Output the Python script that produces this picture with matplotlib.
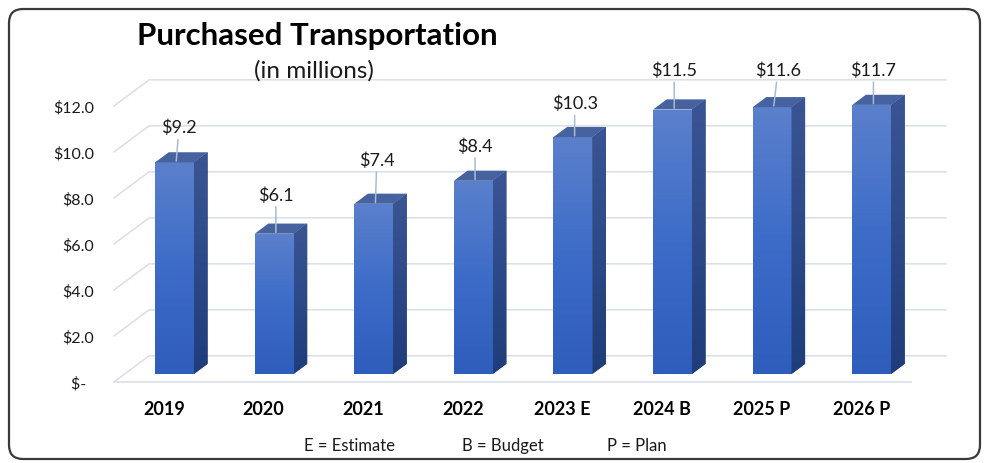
import numpy as np
import matplotlib
matplotlib.use("Agg")
import matplotlib.pyplot as plt
from matplotlib.patches import Polygon, FancyBboxPatch
from matplotlib.colors import LinearSegmentedColormap
from matplotlib.transforms import IdentityTransform

# ---------------- data ----------------
categories = ["2019", "2020", "2021", "2022", "2023 E", "2024 B", "2025 P", "2026 P"]
values = [9.2, 6.1, 7.4, 8.4, 10.3, 11.5, 11.6, 11.7]
value_labels = ["$9.2", "$6.1", "$7.4", "$8.4", "$10.3", "$11.5", "$11.6", "$11.7"]
y_ticks = [0, 2, 4, 6, 8, 10, 12]
y_tick_labels = ["$-  ", "$2.0", "$4.0", "$6.0", "$8.0", "$10.0", "$12.0"]
notes = ["E = Estimate", "B = Budget", "P = Plan"]
title = "Purchased Transportation"
subtitle = "(in millions)"

# ---------------- layout / style ----------------
label_offsets_pt = [24.5, 27.4, 31.0, 24.5, 23.8, 27.7, 26.0, 24.5]
label_dx_pt = [2, 0, 1, 0, 0, 0, 3, 0]
note_x_px = [349, 503, 637]

FRONT_TOP, FRONT_BOT = "#5B80CC", "#2E5DBC"
SIDE_TOP, SIDE_BOT = "#3B5594", "#1F3D7A"
TOP_COLOR = "#46629F"
GRID = "#DCE0E7"
LEADER = "#A9BBD1"
TXT = "#1A1A1A"

W_PX, H_PX = 985, 464
plt.rcParams['font.family'] = ['Lato', 'DejaVu Sans']

fig = plt.figure(figsize=(W_PX / 100, H_PX / 100), dpi=100)
fig.patch.set_facecolor("white")
ax = fig.add_axes([0.1266, 0.14224, 0.8089, 0.66918])
ax.set_facecolor("none")
for s in ax.spines.values():
    s.set_visible(False)

# pseudo-3D projection: depth z in [0, 1] from front edge to back wall
DX, DY = 0.3514, 1.1304
Z_FRONT, Z_BACK = 0.30, 0.69
BAR_W = 0.39


def proj(x, y, z):
    return x + (z - Z_FRONT) * DX, y + (z - Z_FRONT) * DY


n = len(categories)
xs = np.arange(n)
x_lo, x_hi = -0.5, n - 0.5

# back wall gridlines + left wall diagonals
for v in y_ticks:
    a = proj(x_lo, v, 0)
    b = proj(x_lo, v, 1)
    c = proj(x_hi, v, 1)
    ax.plot([a[0], b[0], c[0]], [a[1], b[1], c[1]], color=GRID, lw=1.2,
            zorder=1, clip_on=False, solid_joinstyle="miter")
# floor front edge
a = proj(x_lo, 0, 0)
b = proj(x_hi, 0, 0)
ax.plot([a[0], b[0]], [a[1], b[1]], color=GRID, lw=1.2, zorder=1, clip_on=False)

front_cmap = LinearSegmentedColormap.from_list("front", [FRONT_BOT, "#3C6CC8", FRONT_TOP])
side_cmap = LinearSegmentedColormap.from_list("side", [SIDE_BOT, SIDE_TOP])
grad = np.linspace(0, 1, 256).reshape(-1, 1)

bars = ax.bar(xs, values, width=BAR_W, color=FRONT_BOT, zorder=3, linewidth=0)
for rect in bars:
    x0 = rect.get_x()
    x1 = x0 + rect.get_width()
    h = rect.get_height()
    # front gradient
    im = ax.imshow(grad, extent=(x0, x1, 0, h), origin="lower", aspect="auto",
                   cmap=front_cmap, zorder=3.1, interpolation="bilinear")
    im.set_clip_path(rect)
    # side face
    side_pts = [proj(x1, 0, Z_FRONT), proj(x1, h, Z_FRONT),
                proj(x1, h, Z_BACK), proj(x1, 0, Z_BACK)]
    side = Polygon(side_pts, closed=True, facecolor=SIDE_BOT, edgecolor="none", zorder=3)
    ax.add_patch(side)
    sx = [p[0] for p in side_pts]
    sy = [p[1] for p in side_pts]
    im2 = ax.imshow(grad, extent=(min(sx), max(sx), min(sy), max(sy)), origin="lower",
                    aspect="auto", cmap=side_cmap, zorder=3.1, interpolation="bilinear")
    im2.set_clip_path(side)
    # top face
    top_pts = [proj(x0, h, Z_FRONT), proj(x1, h, Z_FRONT),
               proj(x1, h, Z_BACK), proj(x0, h, Z_BACK)]
    ax.add_patch(Polygon(top_pts, closed=True, facecolor=TOP_COLOR,
                         edgecolor="none", zorder=3.2))

# data labels with leader lines
for i, (v, lbl) in enumerate(zip(values, value_labels)):
    xy = proj(xs[i], v, Z_FRONT + 0.05)
    ax.annotate(lbl, xy=xy, xytext=(label_dx_pt[i], label_offsets_pt[i]),
                textcoords="offset points", ha="center", va="center",
                fontsize=13, color=TXT, zorder=5, annotation_clip=False,
                arrowprops=dict(arrowstyle="-", color=LEADER, lw=1.1,
                                shrinkA=1, shrinkB=0))

# axes ticks
cat_pos = [proj(x, 0, 0)[0] for x in xs]
ax.set_xticks(cat_pos)
ax.set_xticklabels(categories, fontweight="bold", fontsize=13, color="black")
ytick_pos = [proj(x_lo, v, 0)[1] for v in y_ticks]
ax.set_yticks(ytick_pos)
ax.set_yticklabels(y_tick_labels, fontsize=11.5, color=TXT)
ax.tick_params(axis="x", length=0, pad=2)
ax.tick_params(axis="y", length=0, pad=22)

ax.set_xlim(x_lo, x_hi)
ax.set_ylim(-1, 12.5)

# titles
fig.text(317 / W_PX, 1 - 45 / H_PX, title, ha="center", va="baseline",
         fontsize=22.5, fontweight="bold", color="black")
fig.text(314 / W_PX, 1 - 78 / H_PX, subtitle, ha="center", va="baseline",
         fontsize=17.5, color=TXT)

for note, xp in zip(notes, note_x_px):
    fig.text(xp / W_PX, 1 - 451 / H_PX, note, ha="center", va="baseline",
             fontsize=12, color=TXT)

# rounded border
border = FancyBboxPatch((9, 4), 971, 450, boxstyle="round,pad=0,rounding_size=14",
                        transform=IdentityTransform(), facecolor="none",
                        edgecolor="#3A3A3A", lw=1.6)
fig.add_artist(border)

fig.savefig("out.png", dpi=100)
